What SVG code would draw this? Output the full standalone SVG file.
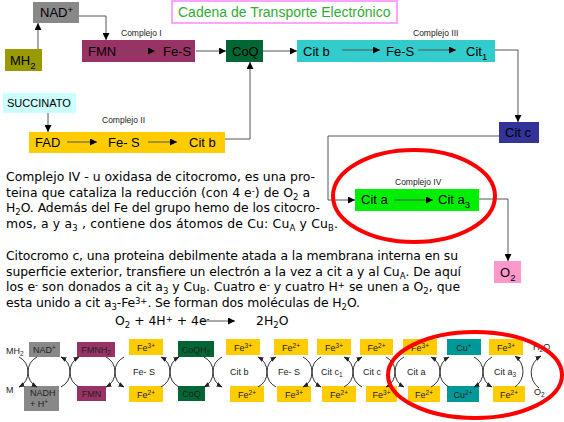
<svg xmlns="http://www.w3.org/2000/svg" width="564" height="422" viewBox="0 0 564 422">
<defs>
<marker id="ah" markerUnits="userSpaceOnUse" markerWidth="8" markerHeight="7" refX="7" refY="3.5" orient="auto"><path d="M0,0 L7,3.5 L0,7 z" fill="#000"/></marker>
<marker id="as" markerUnits="userSpaceOnUse" markerWidth="6" markerHeight="5" refX="5.5" refY="2.5" orient="auto"><path d="M0,0 L6,2.5 L0,5 z" fill="#222"/></marker>
</defs>
<style>
.lbl{font-family:"Liberation Sans",Arial,sans-serif;font-size:13px;fill:#000}
.ttl{font-family:"Liberation Sans",Arial,sans-serif;font-size:14px;fill:#33aa33}
.par{font-family:"DejaVu Sans",Verdana,sans-serif;font-size:12.4px;fill:#000}
.cx{font-family:"Liberation Sans",Arial,sans-serif;font-size:8.5px;fill:#222}
.sm{font-family:"Liberation Sans",Arial,sans-serif;font-size:9px;fill:#222}
.suc{font-family:"Liberation Sans",Arial,sans-serif;font-size:11px;fill:#000}
.ln{fill:none;stroke:#555;stroke-width:1}
.arr{fill:none;stroke:#555;stroke-width:1;marker-end:url(#ah)}
.arc{fill:none;stroke:#333;stroke-width:1;marker-end:url(#as)}
.ell{fill:none;stroke:#ff0000;stroke-width:4}
.lsub{font-size:9.5px;baseline-shift:-3.5px}
.lsup{font-size:9.5px;baseline-shift:4px}
.psub{font-size:8.5px;baseline-shift:-2.5px}
.psup{font-size:8.5px;baseline-shift:3.5px}
.ssub{font-size:6.5px;baseline-shift:-2px}
.ssup{font-size:6.5px;baseline-shift:3px}
.mid{text-anchor:middle}
</style>

<g id="title">
<rect x="172" y="1" width="225" height="22" fill="#fff" stroke="#ff88ff" stroke-width="1.5"/>
<text class="ttl" x="178" y="17">Cadena de Transporte Electrónico</text>
</g>

<g id="nad">
<rect x="33" y="2" width="46" height="21" fill="#888888"/>
<text class="lbl" x="40" y="17">NAD<tspan class="lsup">+</tspan></text>
</g>
<g id="mh2">
<rect x="5" y="49" width="37" height="22" fill="#999900"/>
<text class="lbl" x="10" y="65">MH<tspan class="lsub">2</tspan></text>
</g>

<g id="complejo1">
<text class="cx" x="121" y="36">Complejo I</text>
<rect x="82" y="40" width="113" height="22" fill="#993366"/>
<text class="lbl" x="88" y="56">FMN</text>
<text class="lbl" x="163" y="56">Fe-S</text>
</g>

<g id="coq">
<rect x="226" y="40" width="37" height="22" fill="#006633"/>
<text class="lbl" x="232" y="56">CoQ</text>
</g>

<g id="complejo3">
<text class="cx" x="413" y="36">Complejo III</text>
<rect x="297" y="40" width="198" height="22" fill="#33cccc"/>
<text class="lbl" x="303" y="56">Cit b</text>
<text class="lbl" x="386" y="56">Fe-S</text>
<text class="lbl" x="466" y="56">Cit<tspan class="lsub">1</tspan></text>
</g>

<g id="citc">
<rect x="499" y="122" width="40" height="21" fill="#333399"/>
<text class="lbl" x="505" y="137">Cit c</text>
</g>

<g id="succinato">
<rect x="3" y="93" width="73" height="20" fill="#ccffff"/>
<text class="suc" x="7" y="107">SUCCINATO</text>
</g>

<g id="complejo2">
<text class="cx" x="102" y="123">Complejo II</text>
<rect x="29" y="132" width="196" height="21" fill="#ffcc00"/>
<text class="lbl" x="35" y="147">FAD</text>
<text class="lbl" x="108" y="147">Fe- S</text>
<text class="lbl" x="189" y="147">Cit b</text>
</g>

<g id="complejo4">
<text class="cx" x="395" y="185">Complejo IV</text>
<rect x="355" y="189" width="124" height="22" fill="#00ee00"/>
<text class="lbl" x="361" y="204">Cit a</text>
<text class="lbl" x="438" y="204">Cit a<tspan class="lsub">3</tspan></text>
</g>

<g id="o2">
<rect x="494" y="261" width="27" height="22" fill="#ff99cc"/>
<text class="lbl" x="500" y="277">O<tspan class="lsub">2</tspan></text>
</g>

<g id="connectors">
<path class="arr" d="M38,49 V23"/>
<path class="arr" d="M79,16 H106 V40"/>
<path class="arr" d="M117,51 H155" stroke-dasharray="3,1.5"/>
<path class="arr" d="M196,51 H226"/>
<path class="arr" d="M263,51 H297"/>
<path class="arr" d="M342,50 H380"/>
<path class="arr" d="M418,50 H456"/>
<path class="arr" d="M495,50 H518 V122"/>
<path class="arr" d="M499,136 H328 V200 H355"/>
<path class="arr" d="M394,200 H433"/>
<path class="arr" d="M479,199 H508 V261"/>
<path class="arr" d="M48,113 V132"/>
<path class="arr" d="M67,142 H97"/>
<path class="arr" d="M148,142 H177"/>
<path class="arr" d="M225,139 H250 V62"/>
<path class="arr" d="M201,321 H235"/>
</g>

<ellipse class="ell" cx="414" cy="196" rx="81" ry="46"/>

<g id="texto1">
<text class="par" x="6" y="181" textLength="309" lengthAdjust="spacing">Complejo IV - u oxidasa de citocromo, es una pro-</text>
<text class="par" x="6" y="197" textLength="304" lengthAdjust="spacing">teina que cataliza la reducción (con 4 e<tspan class="psup">-</tspan>) de O<tspan class="psub">2</tspan> a</text>
<text class="par" x="6" y="212" textLength="314" lengthAdjust="spacing">H<tspan class="psub">2</tspan>O. Además del Fe del grupo hemo de los citocro-</text>
<text class="par" x="6" y="228" textLength="332" lengthAdjust="spacing">mos, a y a<tspan class="psub">3</tspan> , contiene dos átomos de Cu: Cu<tspan class="psub">A</tspan> y Cu<tspan class="psub">B</tspan>.</text>
</g>

<g id="texto2">
<text class="par" x="6" y="260" textLength="452" lengthAdjust="spacing">Citocromo c, una proteina debilmente atada a la membrana interna en su</text>
<text class="par" x="6" y="276" textLength="455" lengthAdjust="spacing">superficie exterior, transfiere un electrón a la vez a cit a y al Cu<tspan class="psub">A</tspan>. De aquí</text>
<text class="par" x="6" y="291" textLength="454" lengthAdjust="spacing">los e<tspan class="psup">-</tspan> son donados a cit a<tspan class="psub">3</tspan> y Cu<tspan class="psub">B</tspan>. Cuatro e<tspan class="psup">-</tspan> y cuatro H<tspan class="psup">+</tspan> se unen a O<tspan class="psub">2</tspan>, que</text>
<text class="par" x="6" y="307" textLength="354" lengthAdjust="spacing">esta unido a cit a<tspan class="psub">3</tspan>-Fe<tspan class="psup">3+</tspan>. Se forman dos moléculas de H<tspan class="psub">2</tspan>O.</text>
<text class="par" x="115" y="325">O<tspan class="psub">2</tspan> + 4H<tspan class="psup">+</tspan> + 4e<tspan class="psup">-</tspan></text>
<text class="par" x="256" y="325">2H<tspan class="psub">2</tspan>O</text>
</g>

<g id="cadena-inferior">
<text class="sm" x="6" y="354">MH<tspan class="ssub">2</tspan></text>
<text class="sm" x="6" y="393">M</text>

<rect x="29" y="342" width="31" height="15" fill="#888888"/>
<text class="sm mid" x="44.5" y="353">NAD<tspan class="ssup">+</tspan></text>
<rect x="24" y="386" width="35" height="25" fill="#888888"/>
<text class="sm" x="30" y="396">NADH</text>
<text class="sm" x="30" y="407">+ H<tspan class="ssup">+</tspan></text>

<rect x="77" y="342" width="38" height="15" fill="#993366"/>
<text class="sm mid" x="96" y="353">FMNH<tspan class="ssub">2</tspan></text>
<rect x="77" y="386" width="29" height="15" fill="#993366"/>
<text class="sm mid" x="91.5" y="397">FMN</text>

<rect x="129" y="339" width="34" height="16" fill="#ffcc00"/>
<text class="sm mid" x="146" y="351">Fe<tspan class="ssup">3+</tspan></text>
<text class="sm" x="133" y="375">Fe- S</text>
<rect x="129" y="386" width="34" height="16" fill="#ffcc00"/>
<text class="sm mid" x="146" y="398">Fe<tspan class="ssup">2+</tspan></text>

<rect x="178" y="341" width="36" height="16" fill="#006633"/>
<text class="sm mid" x="196" y="353">CoQH<tspan class="ssub">2</tspan></text>
<rect x="178" y="386" width="27" height="15" fill="#006633"/>
<text class="sm mid" x="191.5" y="397">CoQ</text>

<rect x="226" y="339" width="34" height="16" fill="#ffcc00"/>
<text class="sm mid" x="243" y="351">Fe<tspan class="ssup">3+</tspan></text>
<text class="sm" x="230" y="375">Cit b</text>
<rect x="230" y="386" width="34" height="16" fill="#ffcc00"/>
<text class="sm mid" x="247" y="398">Fe<tspan class="ssup">2+</tspan></text>

<rect x="274" y="339" width="34" height="16" fill="#ffcc00"/>
<text class="sm mid" x="291" y="351">Fe<tspan class="ssup">2+</tspan></text>
<text class="sm" x="278" y="375">Fe- S</text>
<rect x="277" y="386" width="34" height="16" fill="#ffcc00"/>
<text class="sm mid" x="294" y="398">Fe<tspan class="ssup">3+</tspan></text>

<rect x="317" y="339" width="34" height="16" fill="#ffcc00"/>
<text class="sm mid" x="334" y="351">Fe<tspan class="ssup">3+</tspan></text>
<text class="sm" x="321" y="375">Cit c<tspan class="ssub">1</tspan></text>
<rect x="322" y="386" width="34" height="16" fill="#ffcc00"/>
<text class="sm mid" x="339" y="398">Fe<tspan class="ssup">2+</tspan></text>

<rect x="360" y="339" width="33" height="16" fill="#ffcc00"/>
<text class="sm mid" x="376.5" y="351">Fe<tspan class="ssup">2+</tspan></text>
<text class="sm" x="363" y="375">Cit c</text>
<rect x="366" y="386" width="31" height="16" fill="#ffcc00"/>
<text class="sm mid" x="381.5" y="398">Fe<tspan class="ssup">3+</tspan></text>

<rect x="403" y="339" width="34" height="16" fill="#ffcc00"/>
<text class="sm mid" x="420" y="351">Fe<tspan class="ssup">3+</tspan></text>
<text class="sm" x="407" y="375">Cit a</text>
<rect x="408" y="386" width="32" height="16" fill="#ffcc00"/>
<text class="sm mid" x="424" y="398">Fe<tspan class="ssup">2+</tspan></text>

<rect x="447" y="339" width="34" height="16" fill="#009999"/>
<text class="sm mid" x="464" y="351">Cu<tspan class="ssup">+</tspan></text>
<rect x="447" y="386" width="32" height="16" fill="#009999"/>
<text class="sm mid" x="463" y="398">Cu<tspan class="ssup">2+</tspan></text>

<rect x="489" y="339" width="34" height="16" fill="#ffcc00"/>
<text class="sm mid" x="506" y="351">Fe<tspan class="ssup">3+</tspan></text>
<text class="sm" x="494" y="375">Cit a<tspan class="ssub">3</tspan></text>
<rect x="493" y="386" width="32" height="16" fill="#ffcc00"/>
<text class="sm mid" x="509" y="398">Fe<tspan class="ssup">2+</tspan></text>

<text class="sm" x="533" y="350">H<tspan class="ssub">2</tspan>O</text>
<text class="sm" x="534" y="395">O<tspan class="ssub">2</tspan></text>
</g>

<g id="conectores-inferiores">
<path class="arc" d="M19,357 A17,17 0 0 1 19,387"/>
<path class="arc" d="M37,357 A17,17 0 0 0 37,387"/>
<path class="arc" d="M61,387 A17,17 0 0 0 61,357"/>
<path class="arc" d="M79,387 A17,17 0 0 1 79,357"/>
<path class="arc" d="M106,357 A17,17 0 0 1 106,387"/>
<path class="arc" d="M124,357 A17,17 0 0 0 124,387"/>
<path class="arc" d="M161,387 A17,17 0 0 0 161,357"/>
<path class="arc" d="M179,387 A17,17 0 0 1 179,357"/>
<path class="arc" d="M204,357 A17,17 0 0 1 204,387"/>
<path class="arc" d="M222,357 A17,17 0 0 0 222,387"/>
<path class="arc" d="M258,387 A17,17 0 0 0 258,357"/>
<path class="arc" d="M276,387 A17,17 0 0 1 276,357"/>
<path class="arc" d="M303,357 A17,17 0 0 1 303,387"/>
<path class="arc" d="M321,357 A17,17 0 0 0 321,387"/>
<path class="arc" d="M344,387 A17,17 0 0 0 344,357"/>
<path class="arc" d="M362,387 A17,17 0 0 1 362,357"/>
<path class="arc" d="M386,357 A17,17 0 0 1 386,387"/>
<path class="arc" d="M404,357 A17,17 0 0 0 404,387"/>
<path class="arc" d="M431,387 A17,17 0 0 0 431,357"/>
<path class="arc" d="M449,387 A17,17 0 0 1 449,357"/>
<path class="arc" d="M474,357 A17,17 0 0 1 474,387"/>
<path class="arc" d="M492,357 A17,17 0 0 0 492,387"/>
<path class="arc" stroke-width="1.4" d="M515,387 A19,19 0 0 0 515,356"/>
<path class="arc" stroke-width="1.4" d="M539,388 A19,19 0 0 1 541,356"/>
</g>

<ellipse class="ell" cx="475" cy="375" rx="87" ry="43"/>
</svg>
